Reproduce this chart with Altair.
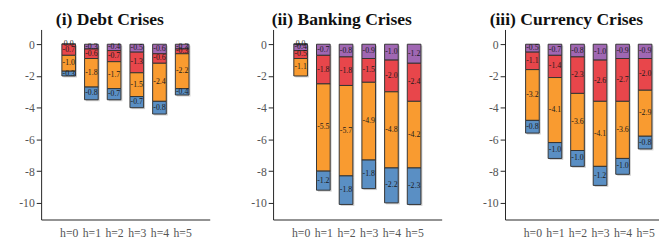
import altair as alt
import pandas as pd

horizons = [0, 1, 2, 3, 4, 5]
components = ["purple", "red", "orange", "blue"]
colors = ["#a067b3", "#e8464b", "#f99b30", "#5a8fc4"]

titles = ["(i) Debt Crises", "(ii) Banking Crises", "(iii) Currency Crises"]

debt_purple = [0.02, -0.3, -0.4, -0.5, -0.6, -0.3]
debt_red = [-0.7, -0.6, -0.7, -1.3, -0.6, -0.3]
debt_orange = [-1.0, -1.8, -1.7, -1.5, -2.4, -2.2]
debt_blue = [-0.3, -0.8, -0.7, -0.7, -0.8, -0.4]

bank_purple = [-0.4, -0.7, -0.8, -0.9, -1.0, -1.2]
bank_red = [-0.5, -1.8, -1.8, -1.5, -2.0, -2.4]
bank_orange = [-1.1, -5.5, -5.7, -4.9, -4.8, -4.2]
bank_blue = [0.02, -1.2, -1.8, -1.8, -2.2, -2.3]

curr_purple = [-0.5, -0.7, -0.8, -1.0, -0.9, -0.9]
curr_red = [-1.1, -1.4, -2.3, -2.6, -2.7, -2.0]
curr_orange = [-3.2, -4.1, -3.6, -4.1, -3.6, -2.9]
curr_blue = [-0.8, -1.0, -1.0, -1.2, -1.0, -0.8]

series = [
    [debt_purple, debt_red, debt_orange, debt_blue],
    [bank_purple, bank_red, bank_orange, bank_blue],
    [curr_purple, curr_red, curr_orange, curr_blue],
]

FONT = "Liberation Serif"
MINUS = "\u2212"


def make_panel(idx, width, xmax):
    rows = []
    for ci, comp in enumerate(components):
        for h, v in zip(horizons, series[idx][ci]):
            rows.append({"h": h, "comp": comp, "order": ci, "value": v})
    df = pd.DataFrame(rows)

    base = alt.Chart(df).transform_stack(
        stack="value", groupby=["h"], as_=["y0", "y1"],
        sort=[alt.SortField("order", order="ascending")],
    ).transform_calculate(
        mid="(datum.y0 + datum.y1) / 2",
        lab="replace(format(datum.value, '.1f'), '" + MINUS + "', '-')",
    )

    xscale = alt.Scale(domain=[-1, xmax], nice=False, zero=False)
    xaxis = alt.Axis(
        values=horizons, labelExpr="'h=' + datum.value", ticks=False,
        grid=False, title=None, domainColor="#222", labelColor="#555",
        labelFont=FONT, labelFontSize=12, labelPadding=8, labelFlush=False,
        labelOverlap=False,
    )
    yscale = alt.Scale(domain=[-11.05, 0.93], nice=False, zero=False)
    yaxis = alt.Axis(
        values=[-10, -8, -6, -4, -2, 0], grid=False, title=None,
        tickSize=5, tickColor="#222", domainColor="#222",
        labelColor="#555", labelFont=FONT, labelFontSize=12,
        labelPadding=2, labelOverlap=False, labelExpr="'' + datum.value",
    )

    shadow = base.mark_bar(size=14, color="#bbbbbb", opacity=0.7,
                           xOffset=1.5, yOffset=1.5, y2Offset=1.5).encode(
        x=alt.X("h:Q", scale=xscale, axis=xaxis),
        y=alt.Y("y0:Q", scale=yscale, axis=yaxis),
        y2="y1:Q",
    )
    bars = base.mark_bar(size=14, stroke="#333", strokeWidth=1).encode(
        x=alt.X("h:Q", scale=xscale, axis=xaxis),
        y=alt.Y("y0:Q", scale=yscale, axis=yaxis),
        y2="y1:Q",
        color=alt.Color("comp:N", scale=alt.Scale(domain=components, range=colors), legend=None),
    )
    labels = base.mark_text(font=FONT, fontSize=8, color="#1a1a1a").encode(
        x=alt.X("h:Q", scale=xscale, axis=xaxis),
        y=alt.Y("mid:Q", scale=yscale, axis=yaxis),
        text=alt.Text("lab:N"),
    )
    return (shadow + bars + labels).properties(
        width=width, height=195,
        title=alt.Title(titles[idx], font=FONT, fontSize=18, fontWeight="bold",
                        color="#111", anchor="middle", dx=-16, offset=1),
    )


p1 = make_panel(0, 173, 6)
p2 = make_panel(1, 173, 6)
p3 = make_panel(2, 158, 5.4)

chart = alt.hconcat(p1, p2, p3, spacing=42).properties(
    padding={"left": 11, "top": 0, "right": 0, "bottom": 0}
).configure_view(stroke=None).configure_axis(labelOverlap=False)

chart.save("out.html", embed_options={"renderer": "svg", "actions": False})
